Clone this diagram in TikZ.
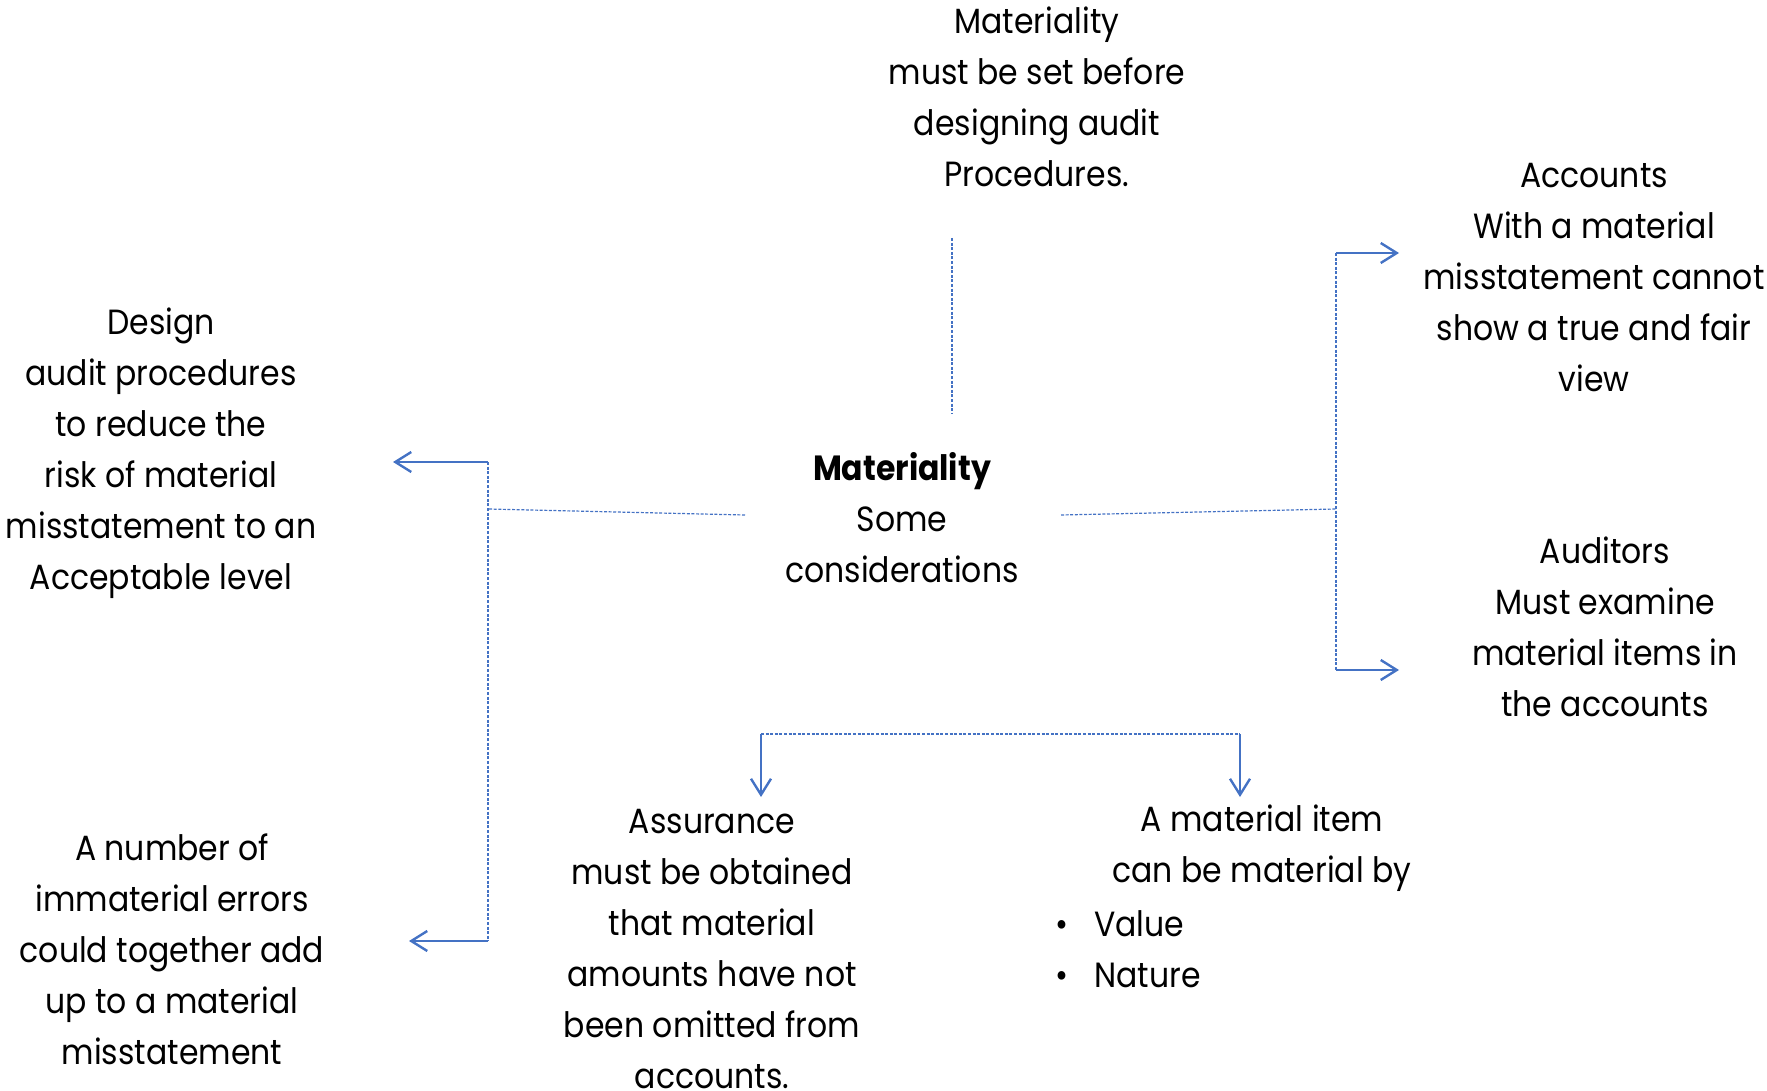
\documentclass[tikz,border=0pt]{standalone}
\usepackage{fontspec}
\setmainfont[FakeStretch=0.9]{Poppins}
\usetikzlibrary{arrows.meta}
\definecolor{lineblue}{HTML}{4472C4}
\tikzset{
  txt/.style={inner sep=0pt, align=center, font=\fontsize{17.5}{25.5}\selectfont},
  dashln/.style={draw=lineblue, line width=0.6pt, dash pattern=on 1.5pt off 0.8pt},
  arr/.style={draw=lineblue, line width=1.2pt, -{Straight Barb[length=8pt,width=10pt,line width=1.2pt]}},
}
\begin{document}
\begin{tikzpicture}[x=0.5pt,y=-0.5pt]
\useasboundingbox (0,0) rectangle (1767,1091);
% text nodes
\node[txt] (top) at (1037,97) {Materiality\\must be set before\\designing audit\\Procedures.};
\node[txt] (center) at (902,518) {\textbf{Materiality}\\Some\\considerations};
\node[txt] (lt) at (161,453) {Design\\audit procedures\\to reduce the\\risk of material\\misstatement to an\\Acceptable level};
\node[txt] (lb) at (172,949) {A number of\\immaterial errors\\could together add\\up to a material\\misstatement};
\node[txt] (rt) at (1594,278) {Accounts\\With a material\\misstatement cannot\\show a true and fair\\view};
\node[txt] (rb) at (1605,627) {Auditors\\Must examine\\material items in\\the accounts};
\node[txt] (bm) at (712,949) {Assurance\\must be obtained\\that material\\amounts have not\\been omitted from\\accounts.};
\node[txt] (br) at (1262,848) {A material item\\can be material by};
\node[txt, anchor=west, align=left] (bl) at (1055,949) {\textbullet\hspace{13pt}Value\\\textbullet\hspace{13pt}Nature};
% coordinates
\coordinate (tvTop) at (952,238);
\coordinate (tvBot) at (952,413);
\coordinate (lJ) at (488,509);
\coordinate (lC) at (745,515);
\coordinate (lTop) at (488,462);
\coordinate (lBot) at (488,941);
\coordinate (lTopEnd) at (393,462);
\coordinate (lBotEnd) at (409,941);
\coordinate (rJ) at (1336,509);
\coordinate (rC) at (1061,515);
\coordinate (rTop) at (1336,253);
\coordinate (rBot) at (1336,670);
\coordinate (rTopEnd) at (1399,253);
\coordinate (rBotEnd) at (1399,670);
\coordinate (bL) at (761,734);
\coordinate (bR) at (1240,734);
\coordinate (bLEnd) at (761,797);
\coordinate (bREnd) at (1240,797);
% connectors
\draw[dashln] (tvTop) -- (tvBot);
\draw[dashln] (lC) -- (lJ);
\draw[dashln] (lTop) -- (lBot);
\draw[arr] (lTop) -- (lTopEnd);
\draw[arr] (lBot) -- (lBotEnd);
\draw[dashln] (rC) -- (rJ);
\draw[dashln] (rTop) -- (rBot);
\draw[arr] (rTop) -- (rTopEnd);
\draw[arr] (rBot) -- (rBotEnd);
\draw[dashln] (bL) -- (bR);
\draw[arr] (bL) -- (bLEnd);
\draw[arr] (bR) -- (bREnd);
\end{tikzpicture}
\end{document}
